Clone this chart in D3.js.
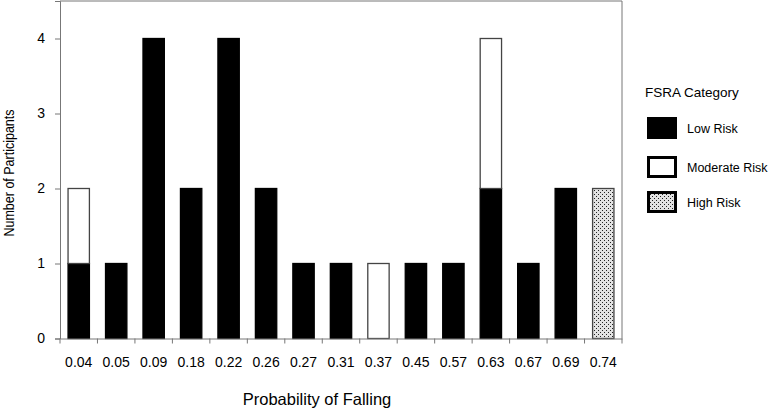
<!DOCTYPE html>
<html><head><meta charset="utf-8">
<script src="https://cdn.jsdelivr.net/npm/d3@7"></script>
<style>body{margin:0;background:#fff}text{font-family:"Liberation Sans",Arial,sans-serif;fill:#000}</style>
</head><body><svg id="c" width="771" height="410"></svg>
<script>
const categories = ["0.04","0.05","0.09","0.18","0.22","0.26","0.27","0.31","0.37","0.45","0.57","0.63","0.67","0.69","0.74"];
const lowRisk      = [1,1,4,2,4,2,1,1,0,1,1,2,1,2,0];
const moderateRisk = [1,0,0,0,0,0,0,0,1,0,0,2,0,0,0];
const highRisk     = [0,0,0,0,0,0,0,0,0,0,0,0,0,0,2];
const yTicks = [0,1,2,3,4];
const seriesNames = ["Low Risk","Moderate Risk","High Risk"];

(function(){
const svg = d3.select("#c");
const pL = 60, pR = 622, pT = 1, pB = 338.5;

const defs = svg.append("defs");
const pat = defs.append("pattern").attr("id","dots").attr("patternUnits","userSpaceOnUse")
  .attr("width",4).attr("height",4);
pat.append("rect").attr("width",4).attr("height",4).attr("fill","#e2e2e2");
pat.append("rect").attr("x",0).attr("y",0).attr("width",1).attr("height",1).attr("fill","#222");
pat.append("rect").attr("x",2).attr("y",2).attr("width",1).attr("height",1).attr("fill","#222");

const x = d3.scaleBand().domain(categories).range([pL,pR]).paddingInner(0.43).paddingOuter(0.215);
const y = d3.scaleLinear().domain([0,4.5]).range([pB,pT]);

svg.append("path").attr("d",`M${pL},${pT}H${pR}V${pB}`).attr("fill","none").attr("stroke","#777").attr("stroke-width",1);

const data = categories.map((c,i)=>({c, low:lowRisk[i], mod:moderateRisk[i], high:highRisk[i]}));
const stack = d3.stack().keys(["low","mod","high"])(data);
const fills = {low:"#000", mod:"#fff", high:"url(#dots)"};
const strokes = {low:"#000", mod:"#444", high:"#444"};
stack.forEach(layer=>{
  svg.append("g").selectAll("rect").data(layer.filter(d=>d[1]-d[0]>0)).join("rect")
    .attr("x",d=>x(d.data.c)).attr("width",x.bandwidth())
    .attr("y",d=>y(d[1])).attr("height",d=>y(d[0])-y(d[1]))
    .attr("fill",fills[layer.key]).attr("stroke",strokes[layer.key]).attr("stroke-width",1.3);
});

const yAxis = svg.append("g").attr("transform",`translate(${pL},0)`)
  .call(d3.axisLeft(y).tickValues(yTicks).tickSize(5).tickPadding(10).tickFormat(d3.format("d")));
yAxis.select(".domain").attr("stroke","#777");
yAxis.selectAll(".tick line").attr("stroke","#777");
yAxis.selectAll("text").attr("font-size",14).attr("font-family","Liberation Sans, Arial, sans-serif");

const xAxis = svg.append("g").attr("transform",`translate(0,${pB})`)
  .call(d3.axisBottom(x).tickSize(0).tickPadding(19));
xAxis.select(".domain").attr("stroke","#777");
xAxis.selectAll("text").attr("font-size",14).attr("font-family","Liberation Sans, Arial, sans-serif");
const step = x.step();
const bounds = categories.map(c=>x(c)-(step-x.bandwidth())/2).concat([x(categories[categories.length-1])+x.bandwidth()+(step-x.bandwidth())/2]);
xAxis.selectAll("line.b").data(bounds).join("line").attr("class","b")
  .attr("x1",d=>d).attr("x2",d=>d).attr("y1",0).attr("y2",5).attr("stroke","#777");

svg.append("text").attr("x",317).attr("y",405).attr("text-anchor","middle").attr("font-size",16.5).text("Probability of Falling");
svg.append("text").attr("transform","translate(14,173) rotate(-90)").attr("text-anchor","middle")
  .attr("font-size",15.5).attr("textLength",127).attr("lengthAdjust","spacingAndGlyphs").text("Number of Participants");

svg.append("text").attr("x",645).attr("y",97).attr("font-size",13.5).text("FSRA Category");
const legY = [117,156,191];
const legFill = ["#000","#fff","url(#dots)"];
seriesNames.forEach((n,i)=>{
  svg.append("rect").attr("x",648.5).attr("y",legY[i]+1.5).attr("width",27).attr("height",19)
    .attr("fill",legFill[i]).attr("stroke","#000").attr("stroke-width",3);
  svg.append("text").attr("x",687).attr("y",legY[i]+16).attr("font-size",12.5).text(n);
});
})();
</script></body></html>
